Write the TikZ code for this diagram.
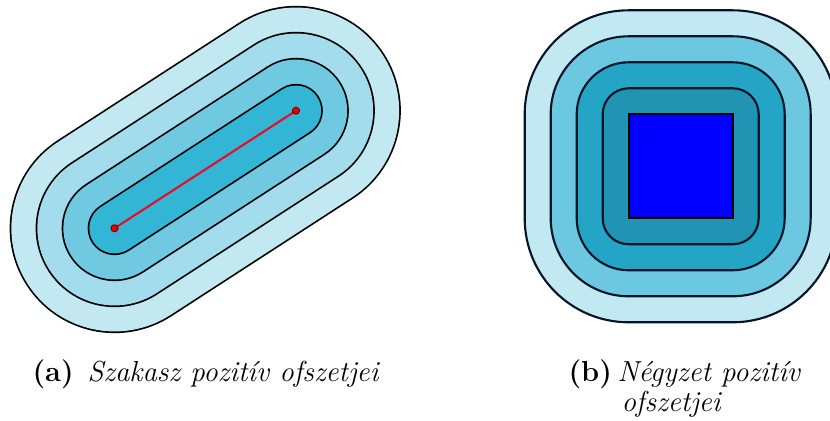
\documentclass[tikz,border=0pt]{standalone}
\usepackage{fontspec}
\definecolor{Lone}{RGB}{51,182,214}
\definecolor{Ltwo}{RGB}{110,201,225}
\definecolor{Lthree}{RGB}{163,220,236}
\definecolor{Lfour}{RGB}{194,232,242}
\definecolor{Rone}{RGB}{32,148,178}
\definecolor{Rtwo}{RGB}{37,165,197}
\definecolor{Rthree}{RGB}{108,200,224}
\definecolor{Rline}{RGB}{5,20,40}
\definecolor{segred}{RGB}{235,10,40}
\definecolor{dotred}{RGB}{230,0,0}
\def\u{0.38}
\begin{document}
\begin{tikzpicture}[x=0.38pt,y=-0.38pt,
  ring/.style={draw=Rline,line width=0.8pt,rounded corners=#1*\u pt},
  caplabel/.style={anchor=base west,inner sep=0pt,font=\fontsize{11}{13}\selectfont\bfseries},
  captext/.style={anchor=base west,inner sep=0pt,font=\fontsize{11}{13}\selectfont\itshape}]
\useasboundingbox (0,0) rectangle (830,421);
\clip (0,0) rectangle (830,421);
\fill[white] (0,0) rectangle (830,421);
% left: segment offsets
\coordinate (p1) at (114.5,228.3);
\coordinate (p2) at (296,110.7);
\foreach \r/\c in {104/Lfour,78/Lthree,52/Ltwo,26/Lone}{
  \draw[black,line cap=round,line width={2*\r*\u pt+0.65pt}] (p1) -- (p2);
  \draw[\c,line cap=round,line width={2*\r*\u pt-0.65pt}] (p1) -- (p2);
}
\draw[segred,line width=0.8pt] (p1) -- (p2);
\fill[dotred,draw=black!60!red,line width=0.3pt] (p1) circle[radius=3.6];
\fill[dotred,draw=black!60!red,line width=0.3pt] (p2) circle[radius=3.6];
% right: square offsets
\coordinate (sq1) at (628.7,114.3);
\coordinate (sq2) at (732.7,218.3);
\foreach \d/\c in {104/Lfour,78/Rthree,52/Rtwo,26/Rone}{
  \draw[ring=\d,fill=\c] ([shift={(-\d,-\d)}]sq1) rectangle ([shift={(\d,\d)}]sq2);
}
\draw[fill=blue,draw=black,line width=0.8pt] (sq1) rectangle (sq2);
% captions
\node[caplabel] (la) at (32,382) {(a)};
\node[captext] (ta) at (87,382) {Szakasz pozitív ofszetjei};
\node[caplabel] (lb) at (568,382) {(b)};
\node[captext] (tb1) at (617,382) {Négyzet pozitív};
\node[captext] (tb2) at (621,412) {ofszetjei};
\end{tikzpicture}
\end{document}
